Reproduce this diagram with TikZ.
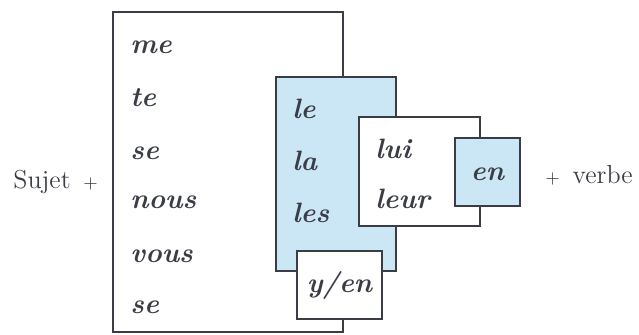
\documentclass[tikz,border=0pt]{standalone}
\usepackage{xcolor}
\usepackage{tikz}
\usetikzlibrary{positioning}

\definecolor{paleblue}{HTML}{CBE7F6}
\definecolor{inkgray}{HTML}{3A3C46}

\tikzset{
	box/.style={draw=inkgray, line width=0.7pt, rectangle, inner sep=0pt},
	pron/.style={anchor=base west, inner sep=0pt, text=inkgray, font=\fontsize{14}{16}\selectfont\bfseries\itshape},
	plain/.style={anchor=base west, inner sep=0pt, text=inkgray, font=\fontsize{13}{15}\selectfont}
}

\begin{document}
\begin{tikzpicture}[x=0.5pt, y=-0.5pt]
						\useasboundingbox (0,0) rectangle (639,334);
						% boxes, back to front
						\node[box, fill=white, minimum width=115pt, minimum height=160pt] (big) at (228,172) {};
						\node[box, fill=paleblue, minimum width=60pt, minimum height=97pt] (blue) at (336,174) {};
						\node[box, fill=white, minimum width=60.5pt, minimum height=54.5pt] (ind) at (419.5,171.5) {};
						\node[box, fill=paleblue, minimum width=32.5pt, minimum height=34pt] (enbox) at (487.5,172) {};
						\node[box, fill=white, minimum width=42.5pt, minimum height=34pt] (yen) at (339.5,285) {};
						% first column
						\node[pron] (me) at (130,53) {me};
						\node[pron] (te) at (130,106) {te};
						\node[pron] (se1) at (130,159) {se};
						\node[pron] (nous) at (130,208) {nous};
						\node[pron] (vous) at (130,262) {vous};
						\node[pron] (se2) at (130,313) {se};
						% direct objects
						\node[pron] (le) at (292,118) {le};
						\node[pron] (la) at (292,170) {la};
						\node[pron] (les) at (292,222) {les};
						% indirect objects
						\node[pron] (lui) at (375,158) {lui};
						\node[pron] (leur) at (375,208) {leur};
						\node[pron, anchor=base] (en) at (487.5,180) {en};
						\node[pron, anchor=base] (yen-t) at (339.5,292) {y/en};
						% outside
						\node[plain] (sujet) at (13,188) {Sujet \,{\small +}};
						\node[plain] (verbe) at (545,183) {{\small +}\, verbe};

					\end{tikzpicture}
\end{document}
